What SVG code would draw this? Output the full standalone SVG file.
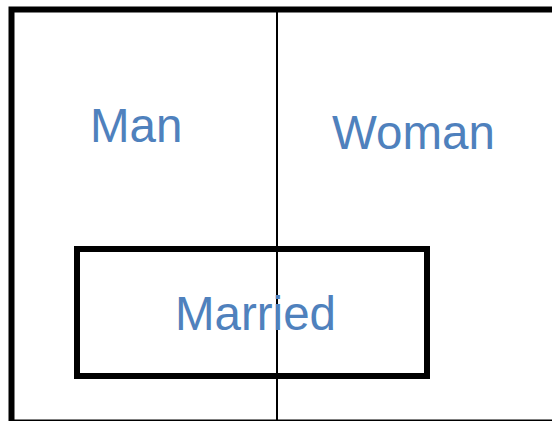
<svg xmlns="http://www.w3.org/2000/svg" width="552" height="421" viewBox="0 0 552 421">
<style>
.box{fill:none;stroke:#000;stroke-width:6}
.lbl{font-family:"Liberation Sans",Arial,sans-serif;font-size:47.5px;fill:#4f81bd}
</style>
<rect width="552" height="421" fill="#fff"/>
<g id="universe"><rect class="box" x="11.5" y="9.5" width="560" height="413"/></g>
<g id="connectors"><line x1="277" y1="9" x2="277" y2="421" stroke="#000" stroke-width="2"/></g>
<g id="man"><text class="lbl" x="90" y="142">Man</text></g>
<g id="woman"><text class="lbl" x="332" y="149">Woman</text></g>
<g id="married"><rect class="box" x="77" y="249" width="350" height="127"/><text class="lbl" x="175" y="330">Married</text></g>
</svg>
